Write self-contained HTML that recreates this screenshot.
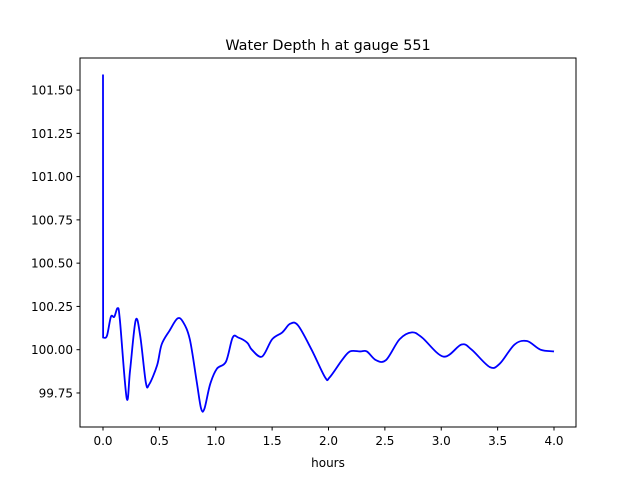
<!DOCTYPE html>
<html><head><meta charset="utf-8"><style>
html,body{margin:0;padding:0;background:#fff;}
svg{display:block;font-family:"DejaVu Sans","Liberation Sans",sans-serif;}
</style></head><body>
<svg id="chart" width="640" height="480">
<rect width="640" height="480" fill="#fff"/>
<text x="328" y="50" text-anchor="middle" font-size="14.4">Water Depth h at gauge 551</text>
<g id="xticks"></g>
<g id="yticks"></g>
<path id="line" fill="none" stroke="#0000ff" stroke-width="1.8" stroke-linejoin="round"/>
<rect x="80" y="58" width="496" height="369" fill="none" stroke="#000" stroke-width="1"/>
<text x="328" y="467" text-anchor="middle" font-size="12">hours</text>
</svg>
<script>
const times=[0,0.001,0.003,0.035,0.07,0.1,0.13,0.15,0.21,0.24,0.29,0.33,0.38,0.41,0.48,0.52,0.59,0.66,0.71,0.77,0.83,0.87,0.9,0.95,1.01,1.09,1.15,1.2,1.28,1.32,1.41,1.5,1.59,1.66,1.73,1.85,1.97,2.01,2.12,2.19,2.28,2.34,2.42,2.51,2.63,2.74,2.83,3.02,3.18,3.27,3.43,3.52,3.65,3.76,3.88,4.0];
const depths=[101.59,100.07,100.07,100.08,100.19,100.19,100.24,100.17,99.72,99.88,100.17,100.08,99.81,99.80,99.91,100.03,100.11,100.18,100.16,100.06,99.82,99.66,99.66,99.80,99.89,99.93,100.07,100.07,100.04,100.0,99.96,100.06,100.1,100.15,100.14,100.0,99.84,99.84,99.94,99.99,99.99,99.99,99.94,99.94,100.06,100.1,100.07,99.96,100.03,100.0,99.9,99.92,100.03,100.05,100.0,99.99];
const xTickVals=[0,0.5,1,1.5,2,2.5,3,3.5,4];
const xTickLabels=["0.0","0.5","1.0","1.5","2.0","2.5","3.0","3.5","4.0"];
const yTickVals=[99.75,100,100.25,100.5,100.75,101,101.25,101.5];
const yTickLabels=["99.75","100.00","100.25","100.50","100.75","101.00","101.25","101.50"];
const X=v=>103+v*112.75;
const Y=v=>349.7-(v-100)*173.1;
const NS="http://www.w3.org/2000/svg";
const xg=document.getElementById('xticks'),yg=document.getElementById('yticks');
xTickVals.forEach((v,i)=>{
 const l=document.createElementNS(NS,'line');
 l.setAttribute('x1',X(v));l.setAttribute('x2',X(v));l.setAttribute('y1',427);l.setAttribute('y2',430.5);l.setAttribute('stroke','#000');
 
 
 xg.appendChild(l);
 const t=document.createElementNS(NS,'text');
 t.setAttribute('x',X(v));t.setAttribute('y',445);t.setAttribute('text-anchor','middle');t.setAttribute('font-size','12');
 t.textContent=xTickLabels[i];
 
 
 xg.appendChild(t);
});
yTickVals.forEach((v,i)=>{
 const l=document.createElementNS(NS,'line');
 l.setAttribute('x1',76.5);l.setAttribute('x2',80);l.setAttribute('y1',Y(v));l.setAttribute('y2',Y(v));l.setAttribute('stroke','#000');
 
 
 yg.appendChild(l);
 const t=document.createElementNS(NS,'text');
 t.setAttribute('x',73);t.setAttribute('y',Y(v)+4.5);t.setAttribute('text-anchor','end');t.setAttribute('font-size','12');
 t.textContent=yTickLabels[i];
 
 
 yg.appendChild(t);
});
const pts=times.map((t,i)=>[X(t),Y(depths[i])]);
let d=`M${pts[0][0]},${pts[0][1]} L${pts[1][0]},${pts[1][1]} L${pts[2][0]},${pts[2][1]}`;
for(let i=2;i<pts.length-1;i++){
 const p0=pts[Math.max(i-1,2)],p1=pts[i],p2=pts[i+1],p3=pts[Math.min(i+2,pts.length-1)];
 const c1=[p1[0]+(p2[0]-p0[0])/6,p1[1]+(p2[1]-p0[1])/6];
 const c2=[p2[0]-(p3[0]-p1[0])/6,p2[1]-(p3[1]-p1[1])/6];
 d+=` C${c1[0]},${c1[1]} ${c2[0]},${c2[1]} ${p2[0]},${p2[1]}`;
}
document.getElementById('line').setAttribute('d',d);
</script>
</body></html>
